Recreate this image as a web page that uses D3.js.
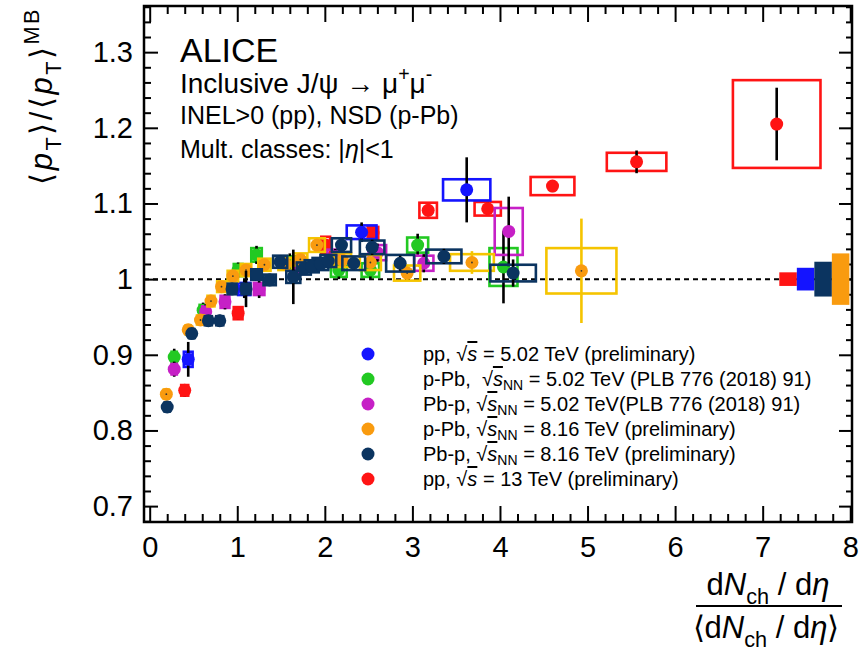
<!DOCTYPE html>
<html>
<head>
<meta charset="utf-8">
<script src="https://cdn.jsdelivr.net/npm/d3@7"></script>
<style>
  body { margin: 0; background: #fff; }
  text { font-family: "Liberation Sans", Arial, Helvetica, sans-serif; fill: #000; white-space: pre; }
</style>
</head>
<body>
<div id="chart"></div>
<script>
// each row: [dNch/deta ratio, <pT>/<pT>MB, stat err, sys half-width in x, sys half-height in y]
var ppX13 = [
  [0.40, 0.853, 0.008, 0.04, 0.007],
  [1.01, 0.955, 0.008, 0.05, 0.008],
  [2.01, 1.045, 0.008, 0.05, 0.011],
  [2.55, 1.061, 0.008, 0.06, 0.008],
  [3.18, 1.091, 0.008, 0.10, 0.010],
  [3.86, 1.093, 0.008, 0.15, 0.009],
  [4.60, 1.123, 0.008, 0.25, 0.012],
  [5.56, 1.155, 0.015, 0.34, 0.012],
  [7.16, 1.205, 0.048, 0.50, 0.058]
];
var pp502 = [
  [0.44, 0.894, 0.023, 0.05, 0.010],
  [1.08, 0.987, 0.012, 0.07, 0.008],
  [2.42, 1.062, 0.013, 0.17, 0.009],
  [3.62, 1.118, 0.043, 0.27, 0.014]
];
var pPb502 = [
  [0.28, 0.897, 0.011, 0.03, 0.007],
  [0.61, 0.959, 0.010, 0.04, 0.007],
  [1.01, 1.012, 0.010, 0.05, 0.008],
  [1.22, 1.032, 0.012, 0.06, 0.009],
  [1.60, 1.022, 0.012, 0.07, 0.008],
  [2.16, 1.012, 0.012, 0.09, 0.009],
  [2.52, 1.012, 0.012, 0.10, 0.009],
  [3.06, 1.045, 0.015, 0.12, 0.010],
  [4.04, 1.016, 0.048, 0.16, 0.025]
];
var Pbp502 = [
  [0.28, 0.881, 0.010, 0.03, 0.007],
  [0.64, 0.957, 0.010, 0.04, 0.007],
  [0.86, 0.970, 0.010, 0.05, 0.008],
  [1.25, 0.987, 0.012, 0.06, 0.008],
  [1.72, 1.015, 0.010, 0.07, 0.008],
  [2.12, 1.030, 0.010, 0.09, 0.009],
  [2.60, 1.035, 0.012, 0.10, 0.010],
  [3.13, 1.021, 0.012, 0.11, 0.010],
  [4.10, 1.063, 0.046, 0.16, 0.031]
];
var pPb816 = [
  [0.19, 0.848, 0.006, 0.03, 0.006],
  [0.44, 0.933, 0.006, 0.03, 0.006],
  [0.58, 0.946, 0.006, 0.04, 0.006],
  [0.70, 0.971, 0.006, 0.04, 0.007],
  [0.82, 0.990, 0.006, 0.05, 0.007],
  [0.95, 1.004, 0.006, 0.06, 0.007],
  [1.10, 1.012, 0.006, 0.06, 0.008],
  [1.31, 1.019, 0.006, 0.07, 0.008],
  [1.55, 1.020, 0.006, 0.08, 0.008],
  [1.72, 1.026, 0.006, 0.08, 0.008],
  [1.91, 1.045, 0.008, 0.09, 0.009],
  [2.20, 1.025, 0.008, 0.10, 0.009],
  [2.52, 1.022, 0.008, 0.12, 0.010],
  [2.94, 1.008, 0.010, 0.15, 0.010],
  [3.68, 1.022, 0.015, 0.25, 0.011],
  [4.93, 1.011, 0.069, 0.40, 0.030]
];
var Pbp816 = [
  [0.20, 0.831, 0.006, 0.03, 0.006],
  [0.48, 0.928, 0.006, 0.03, 0.006],
  [0.67, 0.945, 0.006, 0.04, 0.006],
  [0.80, 0.945, 0.008, 0.04, 0.006],
  [0.94, 0.987, 0.008, 0.05, 0.007],
  [1.10, 0.987, 0.024, 0.05, 0.007],
  [1.22, 1.006, 0.008, 0.06, 0.007],
  [1.37, 0.999, 0.008, 0.07, 0.007],
  [1.49, 1.023, 0.008, 0.08, 0.008],
  [1.64, 1.003, 0.036, 0.08, 0.008],
  [1.76, 1.014, 0.006, 0.08, 0.008],
  [1.85, 1.017, 0.006, 0.08, 0.008],
  [1.95, 1.020, 0.006, 0.09, 0.008],
  [2.04, 1.024, 0.006, 0.09, 0.008],
  [2.19, 1.045, 0.008, 0.11, 0.009],
  [2.33, 1.021, 0.008, 0.13, 0.009],
  [2.54, 1.042, 0.010, 0.14, 0.009],
  [2.86, 1.021, 0.010, 0.16, 0.011],
  [3.36, 1.030, 0.010, 0.20, 0.009],
  [4.15, 1.008, 0.018, 0.26, 0.011]
];
// global (correlated) uncertainties drawn at the right edge: start x, full width, half height
var globalX = [7.19, 7.39, 7.59, 7.79];
var globalW = 0.2;
var globalErr = [0.009, 0.015, 0.023, 0.034];
var globalColors = ['#ff1414', '#1414ff', '#0b3460', '#f99b0f'];

var xTicks = [0, 1, 2, 3, 4, 5, 6, 7, 8];
var yTicks = [0.7, 0.8, 0.9, 1.0, 1.1, 1.2, 1.3];

var svgWidth = 862,
  svgHeight = 652;
var margin = {t: 6, l: 144};
var width = 708,
  height = 516;

var svg = d3.select('#chart').append('svg')
  .attr('width', svgWidth)
  .attr('height', svgHeight);

var chartGroup = svg.append('g')
  .attr('transform', `translate(${margin.l},${margin.t})`);

var xScale = d3.scaleLinear().domain([-0.065, 8.02]).range([0, width]);
var yScale = d3.scaleLinear().domain([0.679, 1.361]).range([height, 0]);

// minor tick values
var xMinor = d3.range(0, 41).map(i => i / 5).filter(v => v % 1 !== 0);
var yMinor = d3.range(34, 69).map(i => i / 50).filter(v => Math.round(v * 50) % 5 !== 0);

function styleAxis(g) {
  g.select('.domain').remove();
  g.selectAll('line').attr('stroke', '#000').attr('stroke-width', 2);
  g.selectAll('text').attr('font-size', 29).attr('fill', '#000')
    .attr('font-family', '"Liberation Sans", Arial, sans-serif');
}

// x axes (bottom with labels, top ticks only)
chartGroup.append('g').attr('transform', `translate(0,${height})`)
  .call(d3.axisBottom(xScale).tickValues(xTicks).tickSize(-16).tickPadding(14).tickFormat(d3.format('d')))
  .call(styleAxis);
chartGroup.append('g').attr('transform', `translate(0,${height})`)
  .call(d3.axisBottom(xScale).tickValues(xMinor).tickSize(-8).tickFormat(''))
  .call(styleAxis);
chartGroup.append('g')
  .call(d3.axisTop(xScale).tickValues(xTicks).tickSize(-16).tickFormat(''))
  .call(styleAxis);
chartGroup.append('g')
  .call(d3.axisTop(xScale).tickValues(xMinor).tickSize(-8).tickFormat(''))
  .call(styleAxis);

// y axes
chartGroup.append('g')
  .call(d3.axisLeft(yScale).tickValues(yTicks).tickSize(-14).tickPadding(11)
    .tickFormat(d => Math.abs(d - 1) < 1e-9 ? '1' : d3.format('.1f')(d)))
  .call(styleAxis);
chartGroup.append('g')
  .call(d3.axisLeft(yScale).tickValues(yMinor).tickSize(-7).tickFormat(''))
  .call(styleAxis);
chartGroup.append('g').attr('transform', `translate(${width},0)`)
  .call(d3.axisRight(yScale).tickValues(yTicks).tickSize(-13).tickFormat(''))
  .call(styleAxis);
chartGroup.append('g').attr('transform', `translate(${width},0)`)
  .call(d3.axisRight(yScale).tickValues(yMinor).tickSize(-6).tickFormat(''))
  .call(styleAxis);

// reference line at unity
chartGroup.append('line')
  .attr('x1', 0).attr('x2', width)
  .attr('y1', yScale(1)).attr('y2', yScale(1))
  .attr('stroke', '#000').attr('stroke-width', 2)
  .attr('stroke-dasharray', '5,4');

var seriesList = [
  {data: ppX13, color: '#ff1414', box: '#ff1414', bar: '#000'},
  {data: pp502, color: '#1414ff', box: '#1414ff', bar: '#000'},
  {data: pPb502, color: '#22c922', box: '#22c922', bar: '#000'},
  {data: Pbp502, color: '#c620c6', box: '#c620c6', bar: '#000'},
  {data: pPb816, color: '#f99b0f', box: '#f5c400', bar: '#f5c400', dot: true},
  {data: Pbp816, color: '#0b3460', box: '#0b3460', bar: '#000'}
];

seriesList.forEach(s => {
  var g = chartGroup.append('g');
  g.selectAll('rect').data(s.data).enter().append('rect')
    .attr('x', d => xScale(d[0] - d[3]))
    .attr('y', d => yScale(d[1] + d[4]))
    .attr('width', d => xScale(d[0] + d[3]) - xScale(d[0] - d[3]))
    .attr('height', d => yScale(d[1] - d[4]) - yScale(d[1] + d[4]))
    .attr('fill', 'none')
    .attr('stroke', s.box)
    .attr('stroke-width', 2.6);
  g.selectAll('line').data(s.data).enter().append('line')
    .attr('x1', d => xScale(d[0])).attr('x2', d => xScale(d[0]))
    .attr('y1', d => yScale(d[1] + d[2])).attr('y2', d => yScale(d[1] - d[2]))
    .attr('stroke', s.bar).attr('stroke-width', 2.6);
  g.selectAll('circle.pt').data(s.data).enter().append('circle')
    .attr('class', 'pt')
    .attr('cx', d => xScale(d[0]))
    .attr('cy', d => yScale(d[1]))
    .attr('r', 6.5)
    .attr('fill', s.color);
  if (s.dot) {
    g.selectAll('circle.dot').data(s.data).enter().append('circle')
      .attr('class', 'dot')
      .attr('cx', d => xScale(d[0]))
      .attr('cy', d => yScale(d[1]))
      .attr('r', 0.9)
      .attr('fill', '#333');
  }
});

// global uncertainty boxes
chartGroup.append('g').selectAll('rect')
  .data(globalX).enter().append('rect')
  .attr('x', d => xScale(d))
  .attr('width', xScale(globalW) - xScale(0))
  .attr('y', (d, i) => yScale(1 + globalErr[i]))
  .attr('height', (d, i) => yScale(1 - globalErr[i]) - yScale(1 + globalErr[i]))
  .attr('fill', (d, i) => globalColors[i]);

// frame
chartGroup.append('rect')
  .attr('width', width).attr('height', height)
  .attr('fill', 'none').attr('stroke', '#000').attr('stroke-width', 2.5);

// rich text helper: parts with italic / sub / sup / overline
function rich(sel, parts, size, subShift) {
  var shift = 0;
  var sub = subShift || 0.3;
  parts.forEach(p => {
    var target = p.sub ? size * sub : (p.sup ? -size * 0.42 : 0);
    var ts = sel.append('tspan').text(p.t).attr('dy', target - shift);
    shift = target;
    if (p.i) ts.attr('font-style', 'italic');
    if (p.sub || p.sup) ts.attr('font-size', size * 0.7);
    if (p.over) ts.style('text-decoration', 'overline');
  });
}

// header texts
svg.append('text').attr('x', 180).attr('y', 62).attr('font-size', 34).text('ALICE');
rich(svg.append('text').attr('x', 180).attr('y', 93).attr('font-size', 28),
  [{t: 'Inclusive J/\u03c8 \u2192 \u03bc'}, {t: '+', sup: true}, {t: '\u03bc'}, {t: '-', sup: true}], 28);
svg.append('text').attr('x', 180).attr('y', 124).attr('font-size', 25).text('INEL>0 (pp), NSD (p-Pb)');
rich(svg.append('text').attr('x', 180).attr('y', 158).attr('font-size', 25),
  [{t: 'Mult. classes: |'}, {t: '\u03b7', i: true}, {t: '|<1'}], 25);

// legend
var legendColors = ['#1414ff', '#22c922', '#c620c6', '#f99b0f', '#0b3460', '#ff1414'];
var legendLabels = [
  [{t: 'pp, \u221a'}, {t: 's', i: true, over: true}, {t: ' = 5.02 TeV (preliminary)'}],
  [{t: 'p-Pb,  \u221a'}, {t: 's', i: true, over: true}, {t: 'NN', sub: true}, {t: ' = 5.02 TeV (PLB 776 (2018) 91)'}],
  [{t: 'Pb-p, \u221a'}, {t: 's', i: true, over: true}, {t: 'NN', sub: true}, {t: ' = 5.02 TeV(PLB 776 (2018) 91)'}],
  [{t: 'p-Pb, \u221a'}, {t: 's', i: true, over: true}, {t: 'NN', sub: true}, {t: ' = 8.16 TeV (preliminary)'}],
  [{t: 'Pb-p, \u221a'}, {t: 's', i: true, over: true}, {t: 'NN', sub: true}, {t: ' = 8.16 TeV (preliminary)'}],
  [{t: 'pp, \u221a'}, {t: 's', i: true, over: true}, {t: ' = 13 TeV (preliminary)'}]
];
var legend = svg.append('g');
legendLabels.forEach((lab, i) => {
  var yy = 354 + i * 25;
  legend.append('circle').attr('cx', 368).attr('cy', yy).attr('r', 6.5).attr('fill', legendColors[i]);
  rich(legend.append('text').attr('x', 423).attr('y', yy + 7).attr('font-size', 20), lab, 20, 0.22);
});

// y title (rotated)
var yTitle = svg.append('text')
  .attr('transform', 'translate(52,7)rotate(-90)')
  .attr('text-anchor', 'end')
  .attr('letter-spacing', 2.5)
  .attr('font-size', 31);
rich(yTitle, [{t: '\u27e8'}, {t: 'p', i: true}, {t: 'T', sub: true}, {t: '\u27e9/\u27e8'},
  {t: 'p', i: true}, {t: 'T', sub: true}, {t: '\u27e9'}, {t: 'MB', sup: true}], 31);

// x title as a fraction
var xt = svg.append('g');
rich(xt.append('text').attr('x', 768).attr('y', 595).attr('text-anchor', 'middle').attr('font-size', 31),
  [{t: 'd'}, {t: 'N', i: true}, {t: 'ch', sub: true}, {t: ' / d'}, {t: '\u03b7', i: true}], 31);
xt.append('line').attr('x1', 696).attr('x2', 842).attr('y1', 606).attr('y2', 606)
  .attr('stroke', '#000').attr('stroke-width', 2);
rich(xt.append('text').attr('x', 766).attr('y', 638).attr('text-anchor', 'middle').attr('font-size', 31),
  [{t: '\u27e8d'}, {t: 'N', i: true}, {t: 'ch', sub: true}, {t: ' / d'}, {t: '\u03b7', i: true}, {t: '\u27e9'}], 31);
</script>
</body>
</html>
